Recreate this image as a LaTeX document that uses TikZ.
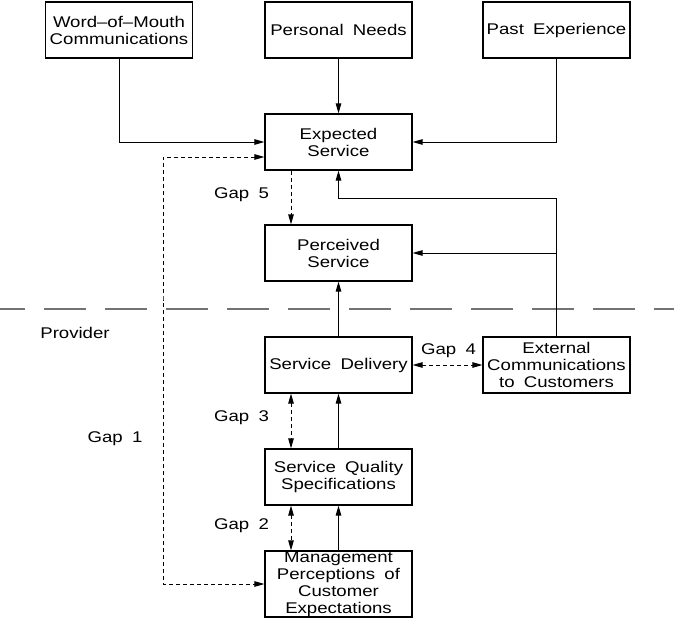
\documentclass[tikz,border=0pt]{standalone}
\usepackage{fontspec}
\setmainfont[FakeStretch=1.2,WordSpace=1.8]{Liberation Sans}
\usetikzlibrary{arrows.meta}
\begin{document}
\begin{tikzpicture}[x=1pt,y=-1pt,
  >={Triangle[length=10pt,width=5.5pt]},
  box/.style={draw,line width=1.2pt,minimum width=147pt,minimum height=56pt,inner sep=0pt,align=center,
    font=\fontsize{15.5}{17}\selectfont},
  lbl/.style={inner sep=0pt,font=\fontsize{15.5}{17}\selectfont},
  arr/.style={line width=1pt,->},
  darr/.style={line width=1pt,dash pattern=on 4pt off 3pt}
]
\useasboundingbox (0,0) rectangle (674,618);
\node[box] (wom) at (119,30) {Word--of--Mouth\\Communications};
\node[box] (pn) at (338.5,30) {Personal Needs};
\node[box] (pe) at (556.5,30) {Past Experience};
\node[box] (es) at (338.5,142) {Expected\\Service};
\node[box] (ps) at (338.5,253) {Perceived\\Service};
\node[box] (sd) at (338.5,365) {Service Delivery};
\node[box] (ec) at (556.5,365) {External\\Communications\\to Customers};
\node[box] (sqs) at (338.5,477) {Service Quality\\Specifications};
\node[box,minimum height=66pt] (mp) at (338.5,584) {Management\\Perceptions of\\Customer\\Expectations};

\coordinate (dl) at (0,309);
\coordinate (dr) at (674,309);
\draw[black!55,line width=1.3pt,dash pattern=on 42pt off 19pt,dash phase=17pt] (dl) -- (dr);

\node[lbl] (provider) at (75,333) {Provider};
\node[lbl] (gap5) at (241.5,195) {Gap 5};
\node[lbl] (gap4) at (448.5,351) {Gap 4};
\node[lbl] (gap3) at (241.5,418) {Gap 3};
\node[lbl] (gap2) at (241.5,526) {Gap 2};
\node[lbl] (gap1) at (115,439) {Gap 1};

\draw[arr] (wom.south) |- (es.west);
\draw[arr] (pe.south) |- (es.east);
\draw[arr] (pn.south) -- (es.north);

\coordinate (fb) at (556.5,198);
\draw[arr] (ec.north) |- (fb) -| (es.south);
\draw[arr] (ec.north |- ps.east) -- (ps.east);

\draw[arr] (sd.north) -- (ps.south);
\draw[arr] (sqs.north) -- (sd.south);
\draw[arr] (mp.north) -- (sqs.south);

\coordinate (g1) at (163,300);
\draw[darr,<->] ([yshift=-15pt]es.west) -| (g1) |- (mp.west);
\draw[darr,->] ([xshift=-47.5pt]es.south) -- ([xshift=-47.5pt]ps.north);
\draw[darr,<->] ([xshift=-47.5pt]sd.south) -- ([xshift=-47.5pt]sqs.north);
\draw[darr,<->] ([xshift=-47.5pt]sqs.south) -- ([xshift=-47.5pt]mp.north);
\draw[darr,<->] (sd.east) -- (ec.west);
\end{tikzpicture}
\end{document}
